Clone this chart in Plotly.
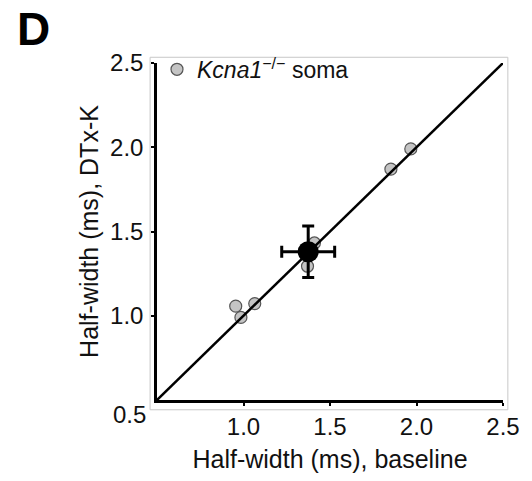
import plotly.graph_objects as go

# Data
baseline = [0.955, 0.985, 1.065, 1.41, 1.37, 1.852, 1.967]
dtxk = [1.057, 0.99, 1.072, 1.432, 1.294, 1.87, 1.99]
mean_x, mean_y = [1.374], [1.38]
sem_x, sem_y = [0.153], [0.153]
identity = [0.5, 2.5]
tick_vals = [1.0, 1.5, 2.0, 2.5]
tick_text = ["1.0", "1.5", "2.0", "2.5"]

FONT = "Liberation Sans, Arial, sans-serif"
TXT = "#111111"

fig = go.Figure()

fig.add_trace(go.Scatter(
    x=baseline, y=dtxk, mode="markers",
    name="<i>Kcna1</i><sup>−/−</sup> soma",
    marker=dict(size=12, color="#c4c4c4", line=dict(color="#555555", width=1.2)),
    showlegend=True,
))
fig.add_trace(go.Scatter(
    x=identity, y=identity, mode="lines",
    line=dict(color="black", width=2.5), showlegend=False, hoverinfo="skip",
))
fig.add_trace(go.Scatter(
    x=mean_x, y=mean_y, mode="markers",
    marker=dict(size=21, color="black"),
    error_x=dict(type="data", array=sem_x, color="black", thickness=3, width=6),
    error_y=dict(type="data", array=sem_y, color="black", thickness=3, width=6),
    showlegend=False,
))

axis_common = dict(
    range=[0.5, 2.5], showgrid=False, zeroline=False,
    showline=True, linecolor="black", linewidth=2.5,
    ticks="outside", ticklen=3, tickwidth=2, tickcolor="black",
    tickvals=tick_vals, ticktext=tick_text,
    tickfont=dict(family=FONT, size=24, color=TXT),
)

fig.update_layout(
    width=524, height=473,
    margin=dict(l=149, r=27, t=55, b=73),
    paper_bgcolor="white", plot_bgcolor="white",
    font=dict(family=FONT, color=TXT),
    xaxis=dict(**axis_common,
               title=dict(text="Half-width (ms), baseline",
                          font=dict(family=FONT, size=25, color=TXT), standoff=12)),
    yaxis=dict(**axis_common, ticklabelstandoff=3,
               title=dict(text="Half-width (ms), DTx-K",
                          font=dict(family=FONT, size=25, color=TXT), standoff=5)),
    legend=dict(x=0.0, y=1.045, xanchor="left", yanchor="top",
                bgcolor="rgba(0,0,0,0)", itemwidth=30,
                font=dict(family=FONT, size=23, color=TXT)),
    shapes=[dict(type="rect", xref="paper", yref="paper",
                 x0=-0.020, x1=1.014, y0=-0.029, y1=1.017,
                 line=dict(color="#c8c8c8", width=1), layer="below")],
    annotations=[
        dict(text="0.5", xref="paper", yref="paper", x=-0.026, y=-0.0435,
             xanchor="right", yanchor="middle", showarrow=False,
             font=dict(family=FONT, size=24, color=TXT)),
        dict(text="<b>D</b>", xref="paper", yref="paper", x=-0.41, y=1.10,
             xanchor="left", yanchor="middle", showarrow=False, height=40,
             font=dict(family=FONT, size=46, color="black")),
    ],
)

fig.write_html("out.html")
